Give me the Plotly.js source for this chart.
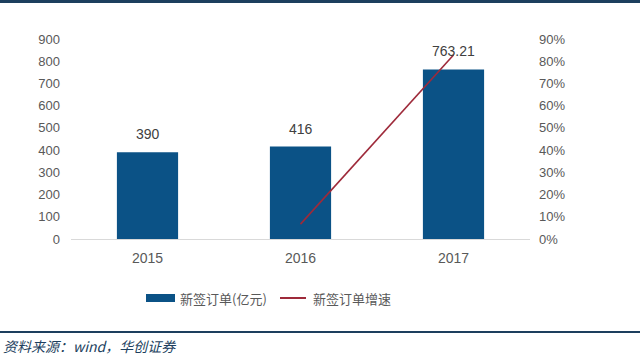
<!DOCTYPE html>
<html><head><meta charset="utf-8">
<script src="https://cdn.plot.ly/plotly-3.0.1.min.js"></script>
<style>html,body{margin:0;padding:0;background:#fff;}#c{width:640px;height:356px;}</style>
</head><body><div id="c"></div>
<script>
const years = ['2015', '2016', '2017'];
const orders = [390, 416, 763.21];
const orderLabels = ['390', '416', '763.21'];
const growthYears = ['2016', '2017'];
const growth = [0.067, 0.828];
const leftTicks = [0, 100, 200, 300, 400, 500, 600, 700, 800, 900];
const rightTicks = [0, 0.1, 0.2, 0.3, 0.4, 0.5, 0.6, 0.7, 0.8, 0.9];
const seriesNames = ['新签订单(亿元)', '新签订单增速'];

const FONT = 'Liberation Sans, Arial, Noto Sans CJK SC, sans-serif';
const BAR = '#0b5286', LINE = '#9e2a3a';
const data = [
  {type:'bar', x:years, y:orders, name:seriesNames[0], marker:{color:BAR}, hoverinfo:'none'},
  {type:'scatter', mode:'lines', x:growthYears, y:growth, yaxis:'y2', name:seriesNames[1],
   line:{color:LINE, width:1.6}, cliponaxis:false}
];
const labelAnns = years.map((yr, i) => ({
  x:i, y:orders[i], xref:'x', yref:'y', text:orderLabels[i], showarrow:false,
  yanchor:'bottom', yshift:8, font:{size:14, color:'#404040', family:FONT}
}));
const layout = {
  width:640, height:356, paper_bgcolor:'#fff', plot_bgcolor:'#fff',
  margin:{l:71, r:110, t:39, b:117},
  font:{family:FONT, color:'#595959', size:13},
  bargap:0.6, showlegend:false,
  xaxis:{type:'category', categoryarray:years, showline:true, linecolor:'#d9d9d9', linewidth:1, ticks:'', showgrid:false,
         tickfont:{size:14, color:'#595959'}, ticklabelstandoff:6},
  yaxis:{range:[0,900], tickvals:leftTicks, showgrid:false, zeroline:false, showline:false,
         tickfont:{size:13, color:'#595959'}, ticklabelstandoff:10},
  yaxis2:{range:[0,0.9], tickvals:rightTicks, tickformat:'.0%', overlaying:'y', side:'right',
          showgrid:false, zeroline:false, showline:false, tickfont:{size:13, color:'#595959'}, ticklabelstandoff:8},
  shapes:[
    {type:'line', xref:'paper', yref:'paper', x0:-0.16, x1:1.25, y0:1.188, y1:1.188, line:{color:'#1d3f5e', width:3}},
    {type:'line', xref:'paper', yref:'paper', x0:-0.16, x1:1.25, y0:-0.465, y1:-0.465, line:{color:'#1d3f5e', width:2}},
    {type:'rect', xref:'paper', yref:'paper', x0:0.1634, x1:0.2266, y0:-0.275, y1:-0.315, fillcolor:BAR, line:{width:0}},
    {type:'line', xref:'paper', yref:'paper', x0:0.4553, x1:0.5120, y0:-0.295, y1:-0.295, line:{color:LINE, width:2}}
  ],
  annotations: labelAnns.concat([
    {xref:'paper', yref:'paper', x:0.2331, y:-0.295, xanchor:'left', yanchor:'middle', showarrow:false,
     text:seriesNames[0], font:{size:13, color:'#595959', family:'Noto Sans CJK SC, sans-serif'}},
    {xref:'paper', yref:'paper', x:0.5229, y:-0.295, xanchor:'left', yanchor:'middle', showarrow:false,
     text:seriesNames[1], font:{size:13, color:'#595959', family:'Noto Sans CJK SC, sans-serif'}},
    {xref:'paper', yref:'paper', x:-0.152, y:-0.535, xanchor:'left', yanchor:'middle', showarrow:false,
     text:'<i>资料来源：wind，华创证券</i>', font:{size:14, color:'#1d3f5e', family:'Noto Sans CJK SC, serif'}}
  ])
};
Plotly.newPlot('c', data, layout, {displayModeBar:false, staticPlot:true});
</script></body></html>
